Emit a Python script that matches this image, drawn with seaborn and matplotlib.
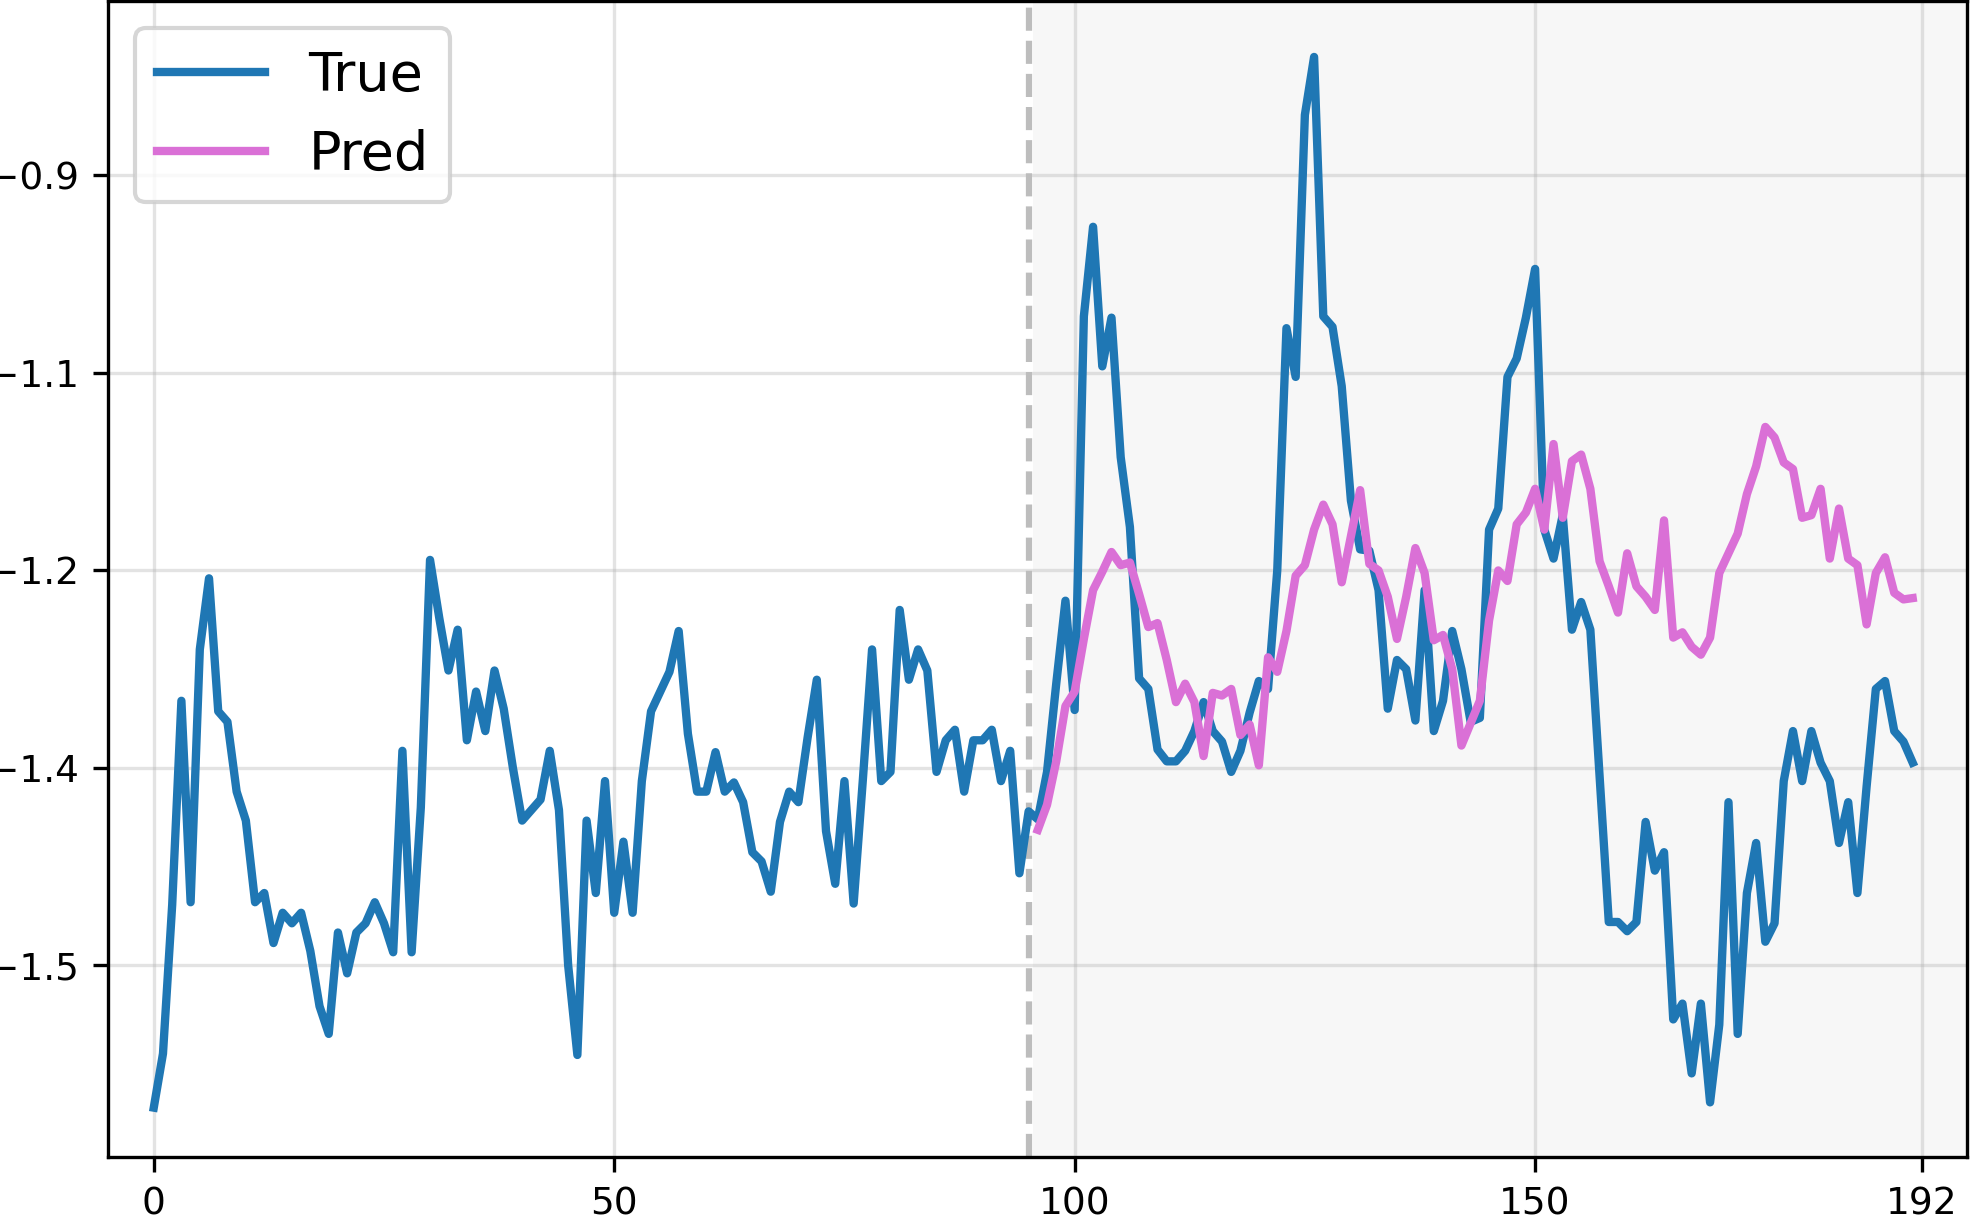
import numpy as np
import matplotlib
matplotlib.use("Agg")
import matplotlib.pyplot as plt
import seaborn as sns

# true series, 0..191
true_vals = [
    -1.608, -1.567, -1.454, -1.299, -1.452, -1.260, -1.206, -1.307, -1.315, -1.368,
    -1.390, -1.452, -1.445, -1.483, -1.460, -1.468, -1.460, -1.489, -1.531, -1.552,
    -1.475, -1.506, -1.475, -1.468, -1.452, -1.468, -1.490, -1.337, -1.490, -1.380,
    -1.192, -1.236, -1.276, -1.245, -1.329, -1.292, -1.322, -1.276, -1.305, -1.350,
    -1.390, -1.382, -1.374, -1.337, -1.382, -1.500, -1.568, -1.390, -1.445, -1.360,
    -1.460, -1.406, -1.460, -1.360, -1.307, -1.292, -1.277, -1.246, -1.324, -1.368,
    -1.368, -1.338, -1.368, -1.361, -1.376, -1.414, -1.421, -1.444, -1.391, -1.368,
    -1.376, -1.327, -1.283, -1.398, -1.438, -1.360, -1.453, -1.359, -1.260, -1.360,
    -1.353, -1.230, -1.283, -1.260, -1.276, -1.353, -1.329, -1.321, -1.368, -1.329,
    -1.329, -1.321, -1.360, -1.337, -1.430, -1.383, -1.389, -1.353, -1.286, -1.223,
    -1.306, -1.007, -0.939, -1.045, -1.008, -1.114, -1.167, -1.282, -1.290, -1.336,
    -1.345, -1.345, -1.337, -1.322, -1.300, -1.322, -1.330, -1.353, -1.337, -1.308,
    -1.284, -1.290, -1.200, -1.016, -1.053, -0.854, -0.810, -1.007, -1.015, -1.060,
    -1.147, -1.184, -1.185, -1.215, -1.305, -1.268, -1.275, -1.314, -1.215, -1.322,
    -1.299, -1.246, -1.275, -1.315, -1.312, -1.169, -1.153, -1.053, -1.039, -1.008,
    -0.971, -1.169, -1.191, -1.158, -1.245, -1.224, -1.245, -1.356, -1.467, -1.467,
    -1.474, -1.467, -1.391, -1.428, -1.414, -1.541, -1.529, -1.582, -1.529, -1.604,
    -1.545, -1.376, -1.552, -1.445, -1.407, -1.482, -1.468, -1.360, -1.322, -1.360,
    -1.322, -1.346, -1.360, -1.407, -1.376, -1.445, -1.364, -1.290, -1.284, -1.322,
    -1.330, -1.346,
]

# prediction, 96..191
pred_start = 96
pred_vals = [
    -1.397, -1.378, -1.345, -1.303, -1.292, -1.252, -1.215, -1.201, -1.186, -1.196,
    -1.194, -1.218, -1.243, -1.240, -1.268, -1.300, -1.286, -1.300, -1.341, -1.293,
    -1.295, -1.290, -1.325, -1.317, -1.348, -1.266, -1.277, -1.246, -1.204, -1.196,
    -1.169, -1.150, -1.165, -1.209, -1.174, -1.139, -1.195, -1.200, -1.220, -1.252,
    -1.220, -1.183, -1.202, -1.253, -1.249, -1.275, -1.333, -1.316, -1.299, -1.238,
    -1.200, -1.208, -1.165, -1.156, -1.138, -1.169, -1.104, -1.160, -1.117, -1.112,
    -1.138, -1.193, -1.212, -1.232, -1.187, -1.212, -1.220, -1.230, -1.162, -1.251,
    -1.247, -1.258, -1.264, -1.251, -1.202, -1.187, -1.172, -1.142, -1.121, -1.091,
    -1.099, -1.118, -1.123, -1.160, -1.158, -1.138, -1.191, -1.153, -1.191, -1.196,
    -1.241, -1.202, -1.190, -1.217, -1.222, -1.221,
]

xtick_vals = [0, 50, 100, 150, 192]
ytick_vals = [-0.9, -1.05, -1.2, -1.35, -1.5]
ytick_labels = ["\u22120.9", "\u22121.1", "\u22121.2", "\u22121.4", "\u22121.5"]

x_true = np.arange(len(true_vals))
x_pred = np.arange(pred_start, pred_start + len(pred_vals))

W, H, DPI = 1971, 1219, 300
fig = plt.figure(figsize=(W / DPI, H / DPI), dpi=DPI)
ax = fig.add_axes([108 / W, 1 - 1157 / H, (1967 - 108) / W, (1157 - 1) / H])

# context / forecast split
ax.axvspan(95.5, 200, color="gray", alpha=0.06, lw=0, zorder=0)
ax.axvline(95, color="#bdbdbd", ls="--", lw=1.5, zorder=1)

sns.lineplot(x=x_true, y=true_vals, ax=ax, color="#1f77b4", linewidth=2, label="True")
sns.lineplot(x=x_pred, y=pred_vals, ax=ax, color="orchid", linewidth=2, label="Pred")

ax.set_xlim(-4.97, 196.9)
ax.set_ylim(-1.6455, -0.7675)
ax.set_xticks(xtick_vals)
ax.set_yticks(ytick_vals, ytick_labels)
ax.tick_params(labelsize=9)
ax.grid(True, color="#b0b0b0", alpha=0.35, linewidth=0.8)
ax.set_axisbelow(True)

ax.legend(loc="upper left", fontsize=13)

fig.savefig("out.png", dpi=DPI)
